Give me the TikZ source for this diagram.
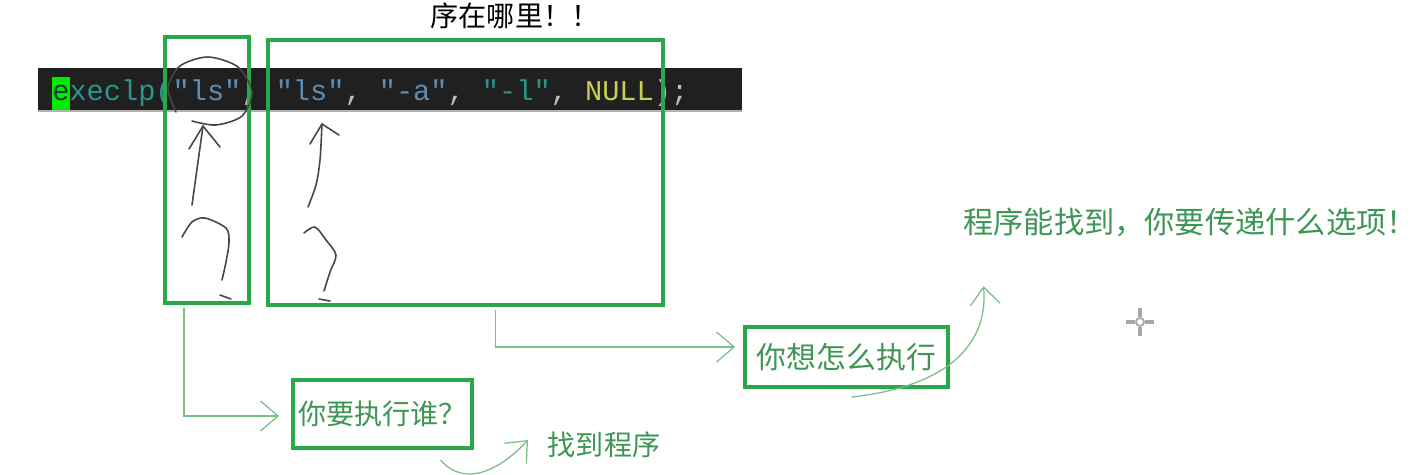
\documentclass[tikz,border=0pt]{standalone}
\usepackage{fontspec}
\setmonofont{Liberation Mono}
\newfontfamily\cjk{Noto Sans CJK SC}
\usetikzlibrary{arrows.meta,calc,positioning}

\definecolor{boxgreen}{RGB}{40,168,72}
\definecolor{notegreen}{RGB}{62,150,84}
\definecolor{linkgreen}{RGB}{120,190,135}
\definecolor{pencilgray}{RGB}{70,70,70}
\definecolor{codebg}{RGB}{32,32,32}
\definecolor{cteal}{RGB}{40,150,140}
\definecolor{cblue}{RGB}{95,140,175}
\definecolor{cyellow}{RGB}{205,205,85}
\definecolor{cgray}{RGB}{190,190,190}
\definecolor{hlgreen}{RGB}{0,235,0}

\begin{document}
\begin{tikzpicture}[x=0.02cm, y=-0.02cm,
    note/.style={text=notegreen, font=\cjk\fontsize{16}{18}\selectfont, inner sep=2pt},
    hlbox/.style={draw=boxgreen, line width=2.3pt, inner sep=0pt},
    link/.style={draw=linkgreen, line width=0.7pt, -{Straight Barb[length=3.5mm,width=6mm]}},
    pencil/.style={draw=pencilgray, line width=0.9pt, line cap=round, line join=round}
]
\clip (0,0) rectangle (1423,474);
\fill[white] (0,0) rectangle (1423,474);

% code line
\fill[codebg] (38,68) rectangle (742,112);
\draw[gray!60, line width=1pt] (38,111) -- (742,111);
\node[anchor=base west, inner sep=0pt, font=\ttfamily\fontsize{16.3}{19}\selectfont] (code) at (52,100)
    {{\setlength{\fboxsep}{0pt}\colorbox{hlgreen}{\strut\color{cteal!40!black}e}}\textcolor{cteal}{xeclp(}\textcolor{cblue}{"ls"}\textcolor{cgray}{, }\textcolor{cblue}{"ls"}\textcolor{cgray}{, }\textcolor{cblue}{"-a"}\textcolor{cgray}{, }\textcolor{cteal}{"-l"}\textcolor{cgray}{, }\textcolor{cyellow}{NULL}\textcolor{cgray}{);}};

% highlight boxes
\node[hlbox, minimum width=1.68cm, minimum height=5.32cm] (lsbox) at (207,170) {};
\node[hlbox, minimum width=7.9cm, minimum height=5.3cm] (argbox) at (465.5,172.5) {};

% labels
\node[note, hlbox, minimum width=3.58cm, minimum height=1.36cm] (whobox) at (382.5,414) {你要执行谁？};
\node[note, right=1.4cm of whobox, yshift=-0.62cm] (findlbl) {找到程序};
\node[note, hlbox, font=\cjk\fontsize{17}{18}\selectfont, minimum width=4.06cm, minimum height=1.2cm] (howbox) at (846.5,357) {你想怎么执行};
\node[note, font=\cjk\fontsize{17.2}{18}\selectfont] (optlbl) at (1190,222) {程序能找到，你要传递什么选项！};
\node[font=\cjk\fontsize{16}{18}\selectfont, text=black] (toplbl) at (515,16) {序在哪里！！};

% connectors
\draw[link] ($(lsbox.south)+(-23,3)$) |- ($(whobox.west)+(-12,2)$);
\draw[link] ($(argbox.south)+(30,3)$) |- ($(howbox.west)+(-8,-10)$);
\draw[link] ($(whobox.south)+(58,10)$) .. controls (465,488) and (500,470) .. ($(findlbl.west)+(-16,-5)$);
\draw[link] ($(howbox.south)+(5,8)$) .. controls (960,385) and (988,335) .. ($(optlbl.south west)+(24,46)$);

% pencil marks
\draw[pencil] plot[smooth] coordinates {(176,112) (168,88) (180,66) (208,57) (238,67) (252,92) (242,116) (216,125) (192,121)};
\draw[pencil] (192,205) -- (203,126);
\draw[pencil] (189,149) -- (203,126) -- (220,147);
\draw[pencil] plot[smooth] coordinates {(182,237) (192,222) (205,218) (226,228) (229,242) (226,262) (222,280)};
\draw[pencil] (220,295) -- (231,299);
\draw[pencil] plot[smooth] coordinates {(308,207) (316,185) (320,160) (322,124)};
\draw[pencil] (310,144) -- (322,124) -- (339,135);
\draw[pencil] plot[smooth] coordinates {(304,233) (315,227) (326,240) (336,255) (330,272) (324,291)};
\draw[pencil] (319,299) -- (330,301);

% cursor
\draw[gray!70, line width=1pt] (1140,322) circle (4);
\draw[gray!70, line width=1.8pt] (1126,322) -- (1135,322) (1145,322) -- (1154,322)
    (1140,308) -- (1140,317) (1140,327) -- (1140,336);
\end{tikzpicture}
\end{document}
